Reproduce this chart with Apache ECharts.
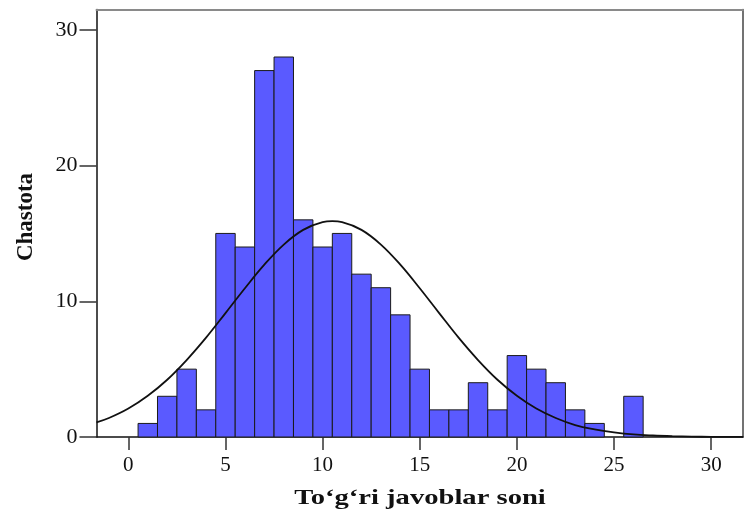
<!DOCTYPE html>
<html><head><meta charset="utf-8">
<script src="https://cdn.jsdelivr.net/npm/echarts@6/dist/echarts.min.js"></script>
<style>html,body{margin:0;padding:0;background:#fff}#c{width:747px;height:516px}</style>
</head><body><div id="c"></div>
<script>
// Histogram bins (centres) and frequencies
const binCenters = [1,2,3,4,5,6,7,8,9,10,11,12,13,14,15,16,17,18,19,20,21,22,23,24,25,26];
const counts     = [1,3,5,2,15,14,27,28,16,14,15,12,11,9,5,2,2,4,2,6,5,4,2,1,0,3];
// Normal curve, values
const curveX = [-1.64,-1,0,1,2,3,4,5,6,7,8,9,10,10.5,11,12,13,14,15,16,17,18,19,20,21,22,23,24,25,26,27,28,29,30,31.64];
const curveY = [1.08,1.40,2.10,3.04,4.22,5.67,7.32,9.13,10.96,12.70,14.18,15.26,15.83,15.9,15.83,15.26,14.18,12.70,10.96,9.13,7.32,5.67,4.22,3.04,2.10,1.40,0.88,0.56,0.34,0.19,0.11,0.06,0.03,0.01,0.003];
const xTicks = [0,5,10,15,20,25,30];
const yTicks = [0,10,20,30];
const xTitle = 'To‘g‘ri javoblar soni';
const yTitle = 'Chastota';

const FONT = '"Liberation Serif","DejaVu Serif",serif';
const chart = echarts.init(document.getElementById('c'), null, {renderer:'canvas'});
const barData = binCenters.map((x,i)=>[x,counts[i]]);
const lineData = curveX.map((x,i)=>[x,curveY[i]]);
const XMIN = -1.64, XMAX = 31.64, YMIN = 0, YMAX = 31.5;

chart.setOption({
  animation:false,
  backgroundColor:'#fff',
  grid:{left:96.5, right:4, top:9.5, bottom:79},
  xAxis:[{
    type:'value', position:'bottom', min:XMIN, max:XMAX,
    splitLine:{show:false},
    axisLine:{show:true, onZero:false, lineStyle:{color:'#111', width:1.5}},
    axisTick:{show:true, customValues:xTicks, length:13, lineStyle:{color:'#333', width:1.5}},
    axisLabel:{customValues:xTicks, fontSize:21, fontFamily:FONT, color:'#111', margin:18}
  },{
    type:'value', position:'top', min:XMIN, max:XMAX,
    splitLine:{show:false},
    axisLine:{show:true, onZero:false, lineStyle:{color:'#8a8a8a', width:2}},
    axisTick:{show:false}, axisLabel:{show:false}
  }],
  yAxis:[{
    type:'value', position:'left', min:YMIN, max:YMAX,
    splitLine:{show:false},
    axisLine:{show:true, onZero:false, lineStyle:{color:'#111', width:1.5}},
    axisTick:{show:true, customValues:yTicks, length:17, lineStyle:{color:'#333', width:1.5}},
    axisLabel:{customValues:yTicks, fontSize:22, fontFamily:FONT, color:'#111', margin:19}
  },{
    type:'value', position:'right', min:YMIN, max:YMAX,
    splitLine:{show:false},
    axisLine:{show:true, onZero:false, lineStyle:{color:'#444', width:1.5}},
    axisTick:{show:false}, axisLabel:{show:false}
  }],
  series:[{
    type:'custom', xAxisIndex:0, yAxisIndex:0, z:2,
    data:barData,
    renderItem:(params, api)=>{
      const x = api.value(0), y = api.value(1);
      if (!y) return null;
      const p0 = api.coord([x-0.5, y]);
      const p1 = api.coord([x+0.5, 0]);
      return {type:'rect', shape:{x:p0[0], y:p0[1], width:p1[0]-p0[0], height:p1[1]-p0[1]},
        style:{fill:'#5a5aff', stroke:'#1a1a1a', lineWidth:1}};
    }
  },{
    type:'line', xAxisIndex:0, yAxisIndex:0, z:5,
    data:lineData, smooth:0.4, symbol:'none',
    lineStyle:{color:'#111', width:1.8}
  }],
  graphic:[{
    type:'text', x:420, y:498, scaleX:1.3,
    style:{text:xTitle, font:'bold 22px '+FONT, fill:'#111', align:'center', verticalAlign:'middle'}
  },{
    type:'text', x:26, y:217, rotation:Math.PI/2,
    style:{text:yTitle, font:'bold 23px '+FONT, fill:'#111', align:'center', verticalAlign:'middle'}
  }]
});
</script>
</body></html>
